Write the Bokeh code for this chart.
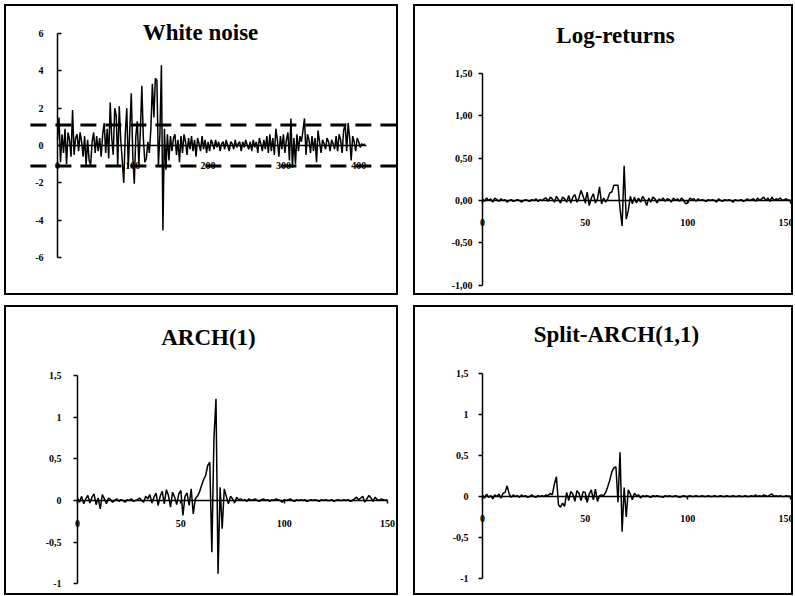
from bokeh.plotting import figure
from bokeh.models import LinearAxis, FixedTicker, Range1d, Label
from bokeh.layouts import column, row
from bokeh.embed import file_html
from bokeh.resources import INLINE

# ---------------- data ----------------
# White noise (sampled every 2nd observation)
wn_x = list(range(0, 410, 2))
wn_y = [
    0.3, 1.5, -0.9, 0.6, -0.4, 0.9, -1.0, 0.7, 0.3, -0.6,
    1.9, -0.5, 0.4, 0.6, -0.3, 0.7, 0.2, -0.6, 0.5, -1.05,
    0.3, -0.8, -1.05, 0.2, 0.7, -0.4, 0.5, -0.3, 0.4, -0.6,
    0.6, 1.2, -0.4, 0.9, -0.7, 2.3, 0.4, -0.5, 2.0, 1.6,
    -1.1, 2.1, 0.3, -0.8, -2.0, 0.6, 2.0, -1.2, 0.8, 2.8,
    -0.6, -2.05, 0.5, 1.3, -1.0, 0.7, 3.2, 0.4, -0.9, -0.7,
    0.2, -0.4, 0.9, 3.3, 1.5, 3.6, 3.5, -1.1, 0.6, 4.3,
    -4.55, 0.9, -1.3, 0.6, -0.8, 0.5, -0.3, 0.4, 0.6, -0.5,
    0.3, -0.9, 0.5, -0.4, 0.6, 0.2, -0.5, 0.4, -0.2, 0.5,
    -0.3, 0.3, -0.6, 0.4, 0.1, -0.3, 0.5, -0.2, 0.3, -0.4,
    0.2, -0.3, 0.3, 0.1, -0.2, 0.3, -0.1, 0.2, -0.3, 0.1,
    0.2, -0.2, 0.3, 0.0, -0.3, 0.2, 0.1, -0.2, 0.3, -0.1,
    0.1, 0.2, -0.3, 0.2, -0.1, 0.3, 0.0, -0.2, 0.2, -0.3,
    0.3, -0.1, 0.2, -0.4, 0.4, 0.1, -0.3, 0.3, -0.2, 0.5,
    -0.4, 0.6, -0.3, 0.4, -0.5, 0.9, 0.3, -0.6, 0.5, -0.2,
    0.6, -0.4, 0.3, 0.7, -0.8, 1.45, -1.2, 0.4, -1.0, 0.6,
    -0.3, 0.5, 0.2, 0.8, 1.45, -0.5, 0.6, 0.3, -0.4, 0.5,
    -0.3, 0.4, -0.9, 0.8, 0.2, -0.4, 0.3, 0.1, -0.2, 0.4,
    0.2, -0.3, 0.3, 0.1, -0.2, 0.5, -0.3, 0.6, 0.3, -0.4,
    0.8, 1.15, -0.3, 1.2, 0.4, -0.8, 0.5, 0.2, -0.3, 0.4,
    0.2, -0.1, 0.1, 0.0, 0.1,
]
wn_band = [1.1, -1.1]
wn_band_x = [-36, 460]
wn_yticks = [-6, -4, -2, 0, 2, 4, 6]
wn_ylabels = ["-6", "-4", "-2", "0", "2", "4", "6"]
wn_xticks = [0, 100, 200, 300, 400]
wn_xlabels = ["0", "100", "200", "300", "400"]

t = list(range(151))
log_returns = [
    0.02, -0.01, 0.03, 0.00, 0.02, -0.02, 0.03, 0.01, -0.01, 0.02,
    0.00, 0.01, -0.02, 0.00, 0.01, -0.01, 0.00, 0.01, 0.00, -0.02,
    0.00, 0.01, 0.00, -0.01, 0.01, 0.00, 0.02, -0.01, 0.01, 0.00,
    0.02, 0.03, -0.01, 0.04, 0.02, -0.02, 0.05, 0.01, -0.03, 0.04,
    0.02, -0.02, 0.06, -0.03, 0.04, 0.07, -0.02, 0.03, 0.12, 0.05,
    -0.02, 0.10, -0.06, 0.03, 0.08, -0.03, 0.02, 0.16, -0.04, 0.03,
    -0.02, 0.02, 0.09, 0.10, 0.18, 0.18, 0.18, -0.10, -0.30, 0.41,
    -0.22, -0.12, 0.05, -0.04, 0.04, -0.03, 0.03, -0.02, 0.05, 0.01,
    -0.06, 0.03, -0.02, 0.04, 0.02, -0.03, 0.02, 0.00, 0.03, -0.01,
    0.02, 0.01, -0.02, 0.03, 0.00, 0.02, -0.01, 0.03, 0.00, -0.04,
    -0.03, 0.03, 0.01, 0.02, -0.01, 0.02, 0.00, 0.01, 0.00, -0.01,
    0.01, 0.00, 0.01, 0.00, -0.02, 0.02, 0.00, -0.01, 0.01, 0.00,
    0.01, 0.00, -0.02, 0.01, 0.00, 0.00, 0.01, -0.01, 0.00, 0.02,
    0.00, 0.01, 0.02, -0.01, 0.03, 0.00, 0.02, 0.04, 0.00, 0.03,
    -0.01, 0.04, 0.00, 0.02, 0.01, 0.03, 0.00, 0.01, 0.02, 0.00,
    0.01,
]
arch1 = [
    0.03, -0.02, 0.05, -0.04, 0.02, 0.06, -0.03, 0.04, 0.08, -0.05,
    0.03, -0.10, 0.07, 0.02, -0.04, 0.03, 0.01, -0.02, 0.00, 0.02,
    -0.01, 0.01, 0.00, -0.02, 0.01, 0.00, 0.02, -0.01, 0.00, 0.01,
    0.03, 0.00, -0.02, 0.05, 0.02, 0.07, -0.03, 0.04, 0.09, -0.06,
    0.05, 0.11, -0.04, 0.13, 0.06, -0.08, 0.10, 0.04, -0.05, 0.08,
    0.12, -0.18, 0.05, 0.09, -0.06, 0.14, -0.16, 0.02, 0.05, 0.10,
    0.18, 0.25, 0.30, 0.42, 0.46, -0.62, 0.74, 1.22, -0.88, 0.16,
    -0.34, 0.14, 0.05, -0.04, 0.05, 0.02, -0.03, 0.04, 0.01, 0.02,
    0.00, 0.01, -0.01, 0.02, 0.00, 0.01, 0.02, 0.00, -0.01, 0.01,
    0.02, 0.00, 0.01, -0.01, 0.01, 0.00, 0.02, 0.01, 0.00, -0.02,
    0.01, 0.00, 0.01, 0.02, 0.00, -0.01, 0.01, 0.00, 0.01, 0.00,
    0.01, -0.01, 0.00, 0.01, 0.00, 0.01, 0.00, -0.01, 0.01, 0.00,
    0.01, 0.00, 0.00, 0.01, -0.01, 0.00, 0.01, 0.00, 0.00, 0.01,
    0.00, 0.01, -0.01, 0.00, 0.02, 0.04, 0.01, 0.03, 0.05, -0.02,
    0.02, 0.06, 0.03, -0.01, 0.04, 0.01, 0.00, 0.02, 0.01, 0.00,
    0.01,
]
split_arch = [
    0.02, -0.02, 0.03, -0.01, 0.01, -0.03, 0.02, 0.00, 0.03, -0.02,
    0.04, 0.05, 0.13, 0.03, -0.01, 0.02, 0.00, 0.01, -0.01, 0.02,
    0.00, 0.01, -0.01, 0.00, 0.02, 0.00, -0.01, 0.01, 0.00, 0.01,
    0.00, 0.02, 0.01, 0.04, 0.02, 0.15, 0.24, -0.10, -0.13, -0.08,
    -0.12, 0.05, -0.05, 0.06, 0.03, -0.06, 0.07, 0.04, -0.05, 0.06,
    0.05, -0.07, 0.03, 0.08, -0.04, 0.09, -0.06, 0.01, 0.02, 0.01,
    0.05, 0.12, 0.20, 0.30, 0.35, 0.36, -0.07, 0.54, -0.43, 0.11,
    -0.25, 0.08, 0.03, -0.04, 0.04, 0.01, 0.02, -0.02, 0.01, 0.00,
    0.01, 0.00, -0.01, 0.01, 0.00, 0.01, 0.00, 0.00, -0.01, 0.01,
    0.00, 0.01, 0.00, 0.00, 0.01, 0.00, -0.01, 0.00, 0.01, 0.00,
    0.00, 0.01, 0.00, 0.00, 0.01, 0.00, 0.00, 0.01, 0.00, 0.00,
    0.01, 0.00, 0.00, 0.01, 0.00, 0.00, 0.01, 0.00, 0.00, 0.01,
    0.00, 0.00, 0.01, 0.00, 0.00, 0.01, 0.00, 0.00, 0.01, 0.00,
    0.00, 0.01, 0.00, 0.02, 0.00, 0.01, 0.00, 0.02, 0.01, 0.00,
    0.02, 0.03, 0.00, 0.01, 0.00, 0.01, 0.00, 0.00, 0.01, 0.00,
    0.01,
]
x150_ticks = [0, 50, 100, 150]
x150_labels = ["0", "50", "100", "150"]
lr_yticks = [-1.0, -0.5, 0.0, 0.5, 1.0, 1.5]
lr_ylabels = ["-1,00", "-0,50", "0,00", "0,50", "1,00", "1,50"]
ar_yticks = [-1.0, -0.5, 0.0, 0.5, 1.0, 1.5]
ar_ylabels = ["-1", "-0,5", "0", "0,5", "1", "1,5"]

FONT = "Liberation Serif"


def make_panel(w, h, x_ppu, y_ppu, ax_x, ax_y, title, tx, ty,
               xbounds, xticks, xlabels, ybounds, yticks, ylabels,
               y_in, y_out, y_stand, x_out, x_stand):
    # ax_x, ax_y: pixel position (inside the panel, from top-left) of the data origin
    xr = Range1d(-ax_x / x_ppu, (w - ax_x) / x_ppu)
    yr = Range1d(-(h - ax_y) / y_ppu, ax_y / y_ppu)
    p = figure(width=w, height=h, x_range=xr, y_range=yr,
               output_backend="svg", toolbar_location=None,
               x_axis_type=None, y_axis_type=None, min_border=0)
    p.outline_line_color = "black"
    p.outline_line_width = 3
    p.background_fill_color = "white"
    p.border_fill_color = "white"

    xa = LinearAxis(fixed_location=0, bounds=xbounds,
                    ticker=FixedTicker(ticks=xticks),
                    major_label_overrides=dict(zip(xticks, xlabels)))
    ya = LinearAxis(fixed_location=0, bounds=ybounds,
                    ticker=FixedTicker(ticks=yticks),
                    major_label_overrides=dict(zip(yticks, ylabels)))
    for a in (xa, ya):
        a.axis_line_color = "black"
        a.axis_line_width = 1.5
        a.major_tick_line_color = "black"
        a.major_tick_line_width = 1.5
        a.minor_tick_line_color = None
        a.major_label_text_font = FONT
        a.major_label_text_font_style = "bold"
        a.major_label_text_font_size = "10px"
        a.major_label_text_color = "black"
    ya.major_tick_in = y_in
    ya.major_tick_out = y_out
    ya.major_label_standoff = y_stand
    xa.major_tick_in = 0
    xa.major_tick_out = x_out
    xa.major_label_standoff = x_stand
    p.add_layout(xa, "below")
    p.add_layout(ya, "left")

    p.add_layout(Label(x=tx, y=h - ty, x_units="screen", y_units="screen",
                       text=title, text_align="center", text_baseline="middle",
                       text_font=FONT, text_font_style="bold",
                       text_font_size="23px", text_color="black"))
    return p


# White noise
p1 = make_panel(394, 291, 0.753, 18.67, 53, 141, "White noise", 196, 28,
                (0, 410), wn_xticks, wn_xlabels, (-6, 6), wn_yticks, wn_ylabels,
                4, 0, 14, 0, 16)
p1.line(wn_x, wn_y, line_color="black", line_width=1.5)
for b in wn_band:
    p1.line(wn_band_x, [b, b], line_color="black", line_width=3, line_dash="16 9")

# Log-returns
p2 = make_panel(380, 291, 2.053, 84.7, 69, 196, "Log-returns", 202, 31,
                (0, 150), x150_ticks, x150_labels, (-1, 1.5), lr_yticks, lr_ylabels,
                0, 4, 6, 3, 15)
p2.line(t, log_returns, line_color="black", line_width=1.5)

# ARCH(1)
p3 = make_panel(394, 290, 2.067, 83.3, 73, 195, "ARCH(1)", 204, 32,
                (0, 150), x150_ticks, x150_labels, (-1, 1.5), ar_yticks, ar_ylabels,
                0, 4, 12, 3, 16)
p3.line(t, arch1, line_color="black", line_width=1.5)

# Split-ARCH(1,1)
p4 = make_panel(380, 290, 2.053, 82.0, 69, 191, "Split-ARCH(1,1)", 203, 29,
                (0, 150), x150_ticks, x150_labels, (-1, 1.5), ar_yticks, ar_ylabels,
                0, 4, 10, 3, 15)
p4.line(t, split_arch, line_color="black", line_width=1.5)

layout = column(row(p1, p2, spacing=15), row(p3, p4, spacing=15), spacing=10,
                margin=(4, 0, 0, 4))

open("out.html", "w").write(file_html(layout, INLINE))
